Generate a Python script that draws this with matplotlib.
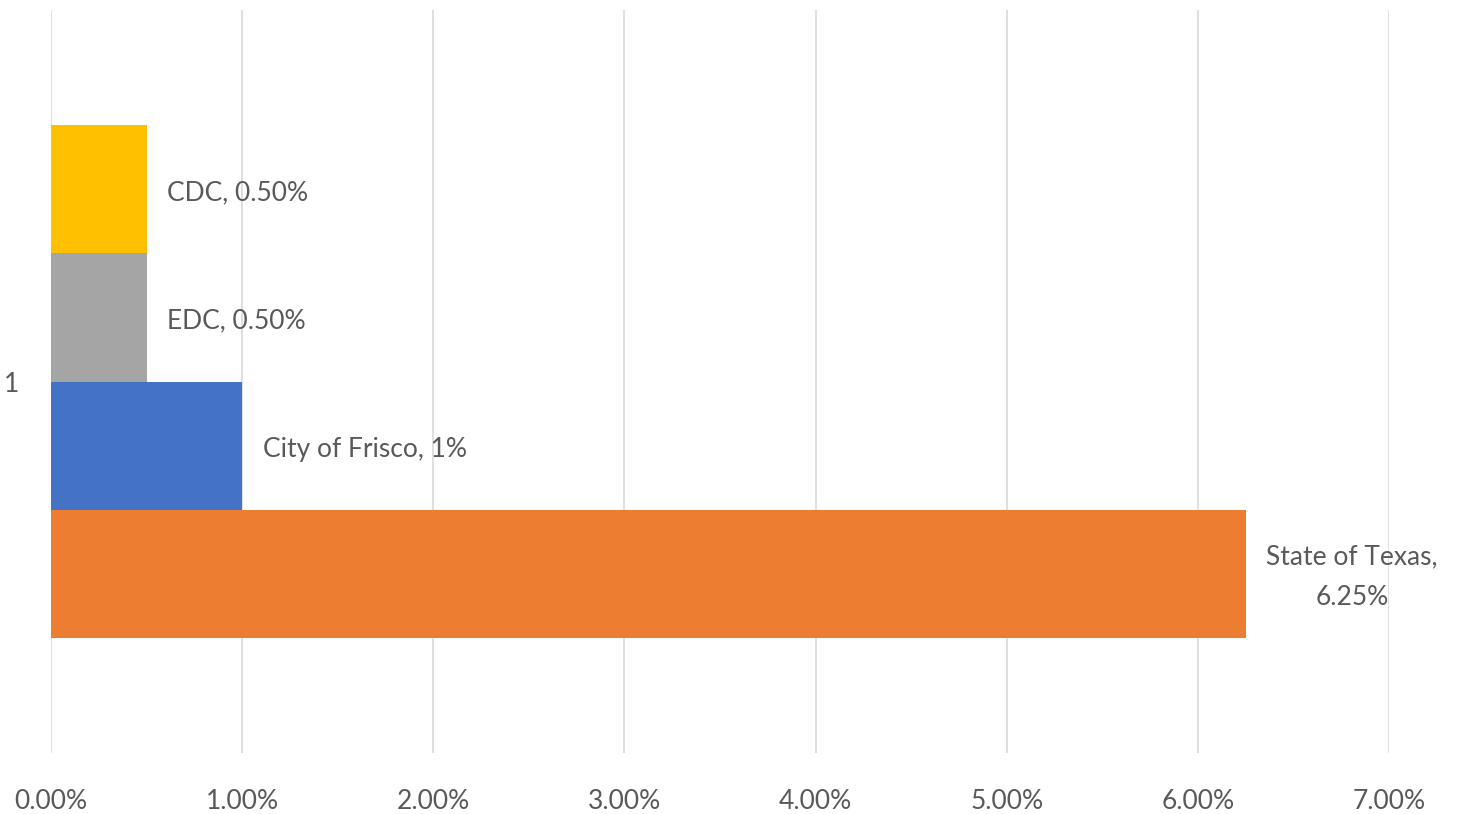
import matplotlib
matplotlib.use("Agg")
import matplotlib.pyplot as plt
from matplotlib.ticker import FuncFormatter

series = ["State of Texas", "City of Frisco", "EDC", "CDC"]
values = [0.0625, 0.01, 0.005, 0.005]
labels = ["State of Texas,\n6.25%", "City of Frisco, 1%", "EDC, 0.50%", "CDC, 0.50%"]
colors = ["#ED7D31", "#4472C4", "#A5A5A5", "#FFC000"]
category = "1"
xticks = [0, 0.01, 0.02, 0.03, 0.04, 0.05, 0.06, 0.07]

plt.rcParams['font.family'] = ['Lato', 'DejaVu Sans']
txt = "#595959"

fig = plt.figure(figsize=(14.76, 8.14), dpi=100)
ax = fig.add_axes([51/1476, 1 - 753/814, (1389-51)/1476, (753-10)/814])

offsets = [-1.5, -0.5, 0.5, 1.5]
for off, v, c, lab in zip(offsets, values, colors, labels):
    ax.barh(off, v, height=1.0, color=c, zorder=2)
    ax.annotate(lab, xy=(v, off), xytext=(15, -2.5), textcoords="offset points",
                ha="left", va="center", multialignment="center",
                fontsize=19, color=txt, annotation_clip=False, linespacing=1.75)

ax.set_xlim(0, 0.07)
ax.set_ylim(-2.9, 2.9)
ax.set_xticks(xticks)
ax.xaxis.set_major_formatter(FuncFormatter(lambda x, p: f"{x*100:.2f}%"))
ax.set_yticks([0])
ax.set_yticklabels([category])
ax.grid(axis="x", color="#D9D9D9", linewidth=1.2, zorder=0)
for s in ax.spines.values():
    s.set_visible(False)
ax.tick_params(axis="both", length=0, colors=txt, labelsize=19)
ax.tick_params(axis="x", pad=26)
ax.tick_params(axis="y", pad=23)

fig.savefig("out.png", dpi=100)
